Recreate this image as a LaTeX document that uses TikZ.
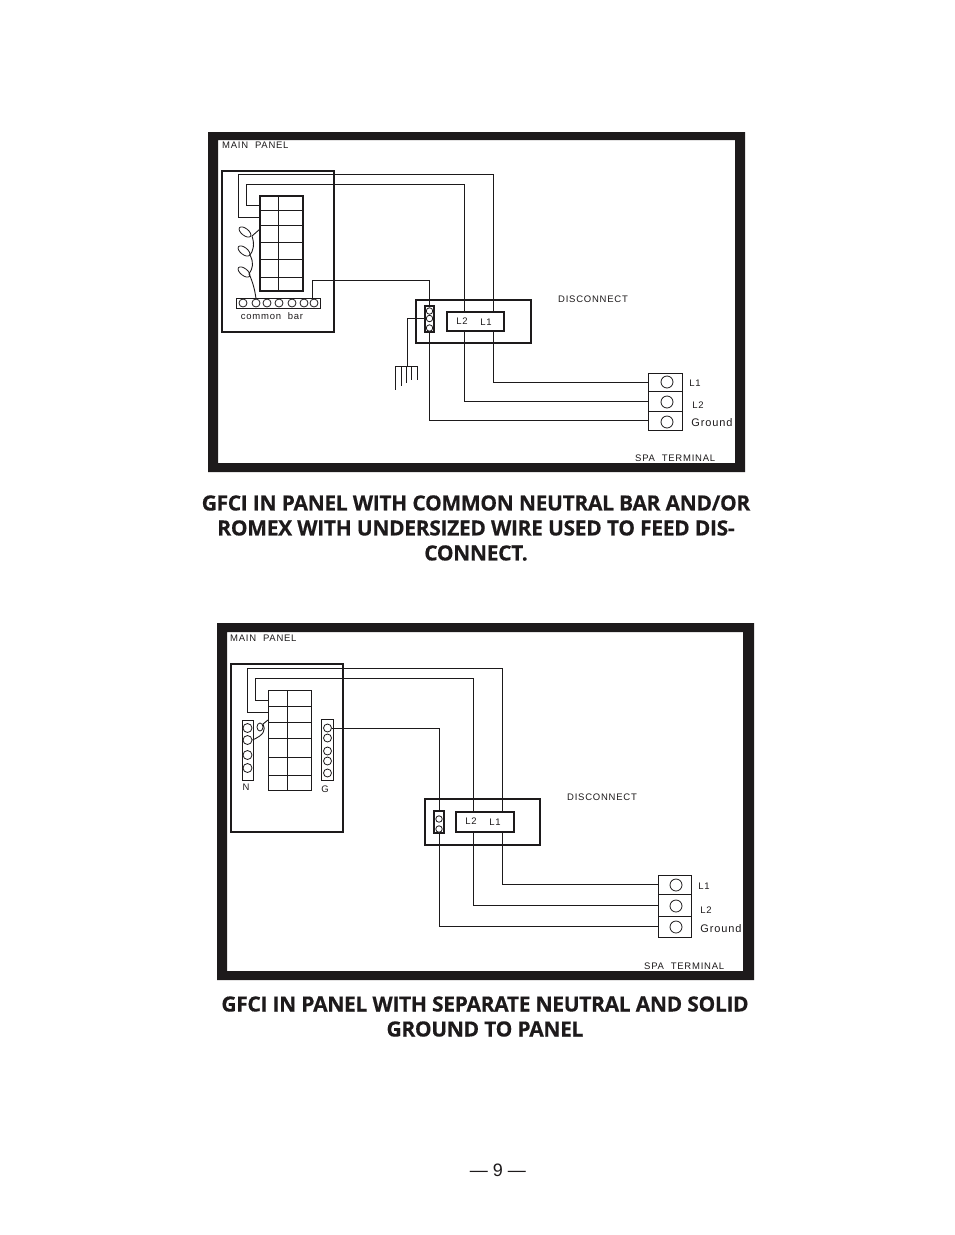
\documentclass[tikz,border=0pt]{standalone}
\usepackage{fontspec}
\setmainfont{Liberation Sans}
\newfontfamily\headfont[LetterSpace=-1.6,BoldFeatures={FakeBold=0.35}]{Open Sans}
\newfontfamily\wirefont[LetterSpace=8]{Liberation Sans}
\definecolor{inkblack}{HTML}{1D1A1B}
\tikzset{
    wire/.style={draw=inkblack,line width=0.8pt},
    box/.style={draw=inkblack,fill=white,line width=1.3pt,inner sep=0pt,outer sep=0pt},
    thinbox/.style={box,line width=0.8pt},
    lug/.style={draw=inkblack,fill=white,circle,line width=0.8pt,inner sep=0pt},
    tag/.style={inkblack,font=\wirefont\fontsize{9.5}{10}\selectfont,inner sep=0pt},
    bigtag/.style={tag,font=\wirefont\fontsize{11}{12}\selectfont},
    heading/.style={inkblack,align=center,inner sep=0pt,font=\headfont\bfseries\fontsize{21}{25}\selectfont}
}
\begin{document}
\begin{tikzpicture}[x=1pt,y=-1pt]
    \useasboundingbox (0,0) rectangle (954,1235);

    % top diagram
    \fill[inkblack,even odd rule] (208,132) rectangle (745,472) (218,140) rectangle (735,463);
    \node[tag,anchor=west] (mainA) at (222,145.5) {MAIN\ \ PANEL};
    \node[box,fill=none,minimum width=112,minimum height=161] (panelA) at (278,251.5) {};
    \node[box,minimum width=43,minimum height=95] (brkA) at (281.5,243.5) {};
    \draw[wire] (brkA.north -| 278,0) -- (brkA.south -| 278,0);
    \foreach \rowy in {210,225,242,259,277}
        \draw[wire] (brkA.west |- 0,\rowy) -- (brkA.east |- 0,\rowy);
    \node[thinbox,minimum width=84,minimum height=10] (barA) at (278,303) {};
    \foreach \lugx [count=\i] in {243,256,267,279,292,304,314}
        \node[lug,minimum size=8] (barA\i) at (\lugx,303) {};
    \node[tag,anchor=center] (commonA) at (272,316.5) {common\ \ bar};
    \node[box,minimum width=115,minimum height=43] (discA) at (473.5,321.5) {};
    \node[tag,anchor=center] (discnameA) at (593,299) {DISCONNECT};
    \foreach \celly/\cellh [count=\i] in {382/18,401/20,420.5/19}
        \node[thinbox,minimum width=34,minimum height=\cellh] (termA\i) at (665,\celly) {};
    \foreach \i in {1,2,3}
        \node[lug,minimum size=12] (lugA\i) at (667,\i*20+362) {};
    \coordinate (brkAa) at (260,217);
    \coordinate (brkAb) at (260,205);
    \coordinate (rakeA) at (407,366);
    \draw[wire] (brkAa) -- (238,217) -- (238,174) -- (493,174) |- (termA1.west);
    \draw[wire] (brkAb) -- (246,205) -- (246,184) -- (464,184) |- (termA2.west);
    \draw[wire] (barA.north -| 312,0) -- (312,280) -- (429.5,280) |- (termA3.west);
    \node[thinbox,line width=1.1pt,minimum width=9,minimum height=26] (stripA) at (429.5,319) {};
    \foreach \lugy [count=\i] in {311,318.5,328}
        \node[lug,minimum size=6.5] (stripA\i) at (429.5,\lugy) {};
    \draw[wire] (stripA.west |- stripA2) -- (407,318.5) -- (rakeA);
    \draw[wire] (395,366) -- (417,366);
    \foreach \tinex/\tiney in {395/390,401/386,406/383,411/380,417/380}
        \draw[wire] (\tinex,366) -- (\tinex,\tiney);
    \node[box,minimum width=57,minimum height=19] (lboxA) at (475.5,321.5) {};
    \node[tag,anchor=center] (ltwoA) at (462,321) {L2};
    \node[tag,anchor=center] (loneA) at (486,322) {L1};
    \node[tag,anchor=center] (lAone) at (695,383) {L1};
    \node[tag,anchor=center] (lAtwo) at (698,405) {L2};
    \node[bigtag,anchor=center] (lAgnd) at (712,423) {Ground};
    \node[tag,anchor=west] (spaA) at (635,458) {SPA\ \ TERMINAL};
    \draw[wire,line width=0.9pt] (brkA.west |- 0,229) -- (252,236)
        .. controls (255,245) and (253,251) .. (250,255)
        .. controls (254,263) and (253,268) .. (249,274)
        .. controls (253,282) and (255,291) .. (barA2.north);
    \draw[wire] (245,232) ellipse [x radius=7pt,y radius=3.5pt,rotate=-38];
    \draw[wire] (244,251) ellipse [x radius=7pt,y radius=3.5pt,rotate=-38];
    \draw[wire] (244,272) ellipse [x radius=7pt,y radius=3.5pt,rotate=-38];

    \node[heading] (titleA) at (476,528) {GFCI IN PANEL WITH COMMON NEUTRAL BAR AND/OR\\ROMEX WITH UNDERSIZED WIRE USED TO FEED DIS-\\CONNECT.};

    % bottom diagram
    \fill[inkblack,even odd rule] (217,623) rectangle (754,980) (227,632) rectangle (743,971);
    \node[tag,anchor=west] (mainB) at (230,638) {MAIN\ \ PANEL};
    \node[box,fill=none,minimum width=112,minimum height=168] (panelB) at (287,748) {};
    \node[thinbox,minimum width=43,minimum height=100] (brkB) at (289.5,740) {};
    \draw[wire] (brkB.north -| 287,0) -- (brkB.south -| 287,0);
    \foreach \rowy in {706,722,738,757,775}
        \draw[wire] (brkB.west |- 0,\rowy) -- (brkB.east |- 0,\rowy);
    \node[thinbox,minimum width=11,minimum height=60] (barN) at (247.5,750) {};
    \foreach \lugy [count=\i] in {728,740,755,768}
        \node[lug,minimum size=9] (barN\i) at (247.5,\lugy) {};
    \node[thinbox,minimum width=12,minimum height=61] (barG) at (327.5,749.5) {};
    \foreach \lugy [count=\i] in {728,738,751,761,773}
        \node[lug,minimum size=8] (barG\i) at (327.5,\lugy) {};
    \node[tag,anchor=center] (nameN) at (246,787) {N};
    \node[tag,anchor=center] (nameG) at (325,789) {G};
    \node[box,line width=1.1pt,minimum width=115,minimum height=46] (discB) at (482.5,822) {};
    \node[tag,anchor=center] (discnameB) at (602,797) {DISCONNECT};
    \foreach \celly/\cellh [count=\i] in {884.5/19,905/22,926.5/21}
        \node[thinbox,minimum width=33,minimum height=\cellh] (termB\i) at (674.5,\celly) {};
    \foreach \i in {1,2,3}
        \node[lug,minimum size=12] (lugB\i) at (676,\i*21+864) {};
    \coordinate (brkBa) at (268,712);
    \coordinate (brkBb) at (268,700);
    \draw[wire] (brkBa) -- (247,712) -- (247,668) -- (502,668) |- (termB1.west);
    \draw[wire] (brkBb) -- (255,700) -- (255,678) -- (473,678) |- (termB2.west);
    \draw[wire] (barG1.east) -- (439,728) |- (termB3.west);
    \node[thinbox,line width=1.1pt,minimum width=10,minimum height=22] (stripB) at (439,822) {};
    \foreach \lugy [count=\i] in {819,829}
        \node[lug,minimum size=6.5] (stripB\i) at (439,\lugy) {};
    \node[box,minimum width=58,minimum height=20] (lboxB) at (485,822) {};
    \node[tag,anchor=center] (ltwoB) at (471,821) {L2};
    \node[tag,anchor=center] (loneB) at (495,822) {L1};
    \node[tag,anchor=center] (lBone) at (704,886) {L1};
    \node[tag,anchor=center] (lBtwo) at (706,910) {L2};
    \node[bigtag,anchor=center] (lBgnd) at (721,929) {Ground};
    \node[tag,anchor=west] (spaB) at (644,966) {SPA\ \ TERMINAL};
    \draw[wire,line width=0.9pt] (brkB.west |- 0,720) -- (263,724)
        .. controls (266,730) and (264,735) .. (barN2.east);
    \draw[wire] (260,727) ellipse [x radius=3pt,y radius=4pt];

    \node[heading] (titleB) at (485,1016.5) {GFCI IN PANEL WITH SEPARATE NEUTRAL AND SOLID\\GROUND TO PANEL};

    \node[inkblack,inner sep=0pt,font=\fontsize{18}{20}\selectfont] (pagenum) at (498,1170) {--- 9 ---};
\end{tikzpicture}
\end{document}
